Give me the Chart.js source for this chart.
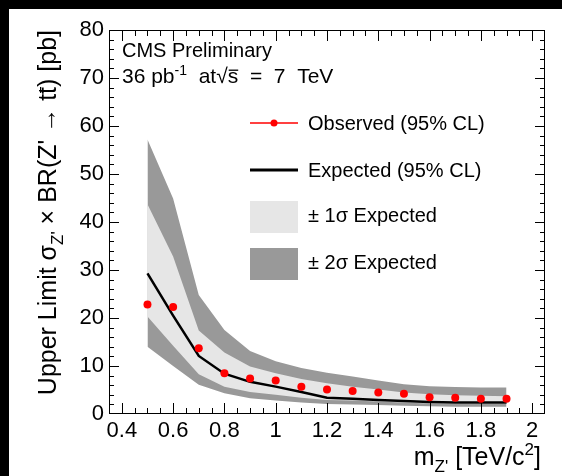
<!DOCTYPE html>
<html>
<head>
<meta charset="utf-8">
<script src="https://cdn.jsdelivr.net/npm/chart.js@4.4.1/dist/chart.umd.min.js"></script>
<style>
  html, body { margin: 0; padding: 0; background: #fff; }
  #wrap { width: 562px; height: 476px; }
</style>
</head>
<body>
<div id="wrap"><canvas id="limitChart" width="562" height="476"></canvas></div>
<script>
// Z' masses [TeV/c^2]
const masses = [0.5, 0.6, 0.7, 0.8, 0.9, 1.0, 1.1, 1.2, 1.3, 1.4, 1.5, 1.6, 1.7, 1.8, 1.9];
// upper limits [pb]
const observed = [22.8, 22.3, 13.7, 8.5, 7.4, 7.0, 5.7, 5.1, 4.8, 4.5, 4.2, 3.5, 3.4, 3.2, 3.2];
const expected = [29.3, 20.5, 12.1, 8.4, 6.7, 5.7, 4.6, 3.4, 3.2, 2.9, 2.7, 2.5, 2.4, 2.4, 2.4];
const plus1 = [43.7, 32.8, 17.4, 12.8, 9.9, 8.5, 7.3, 6.4, 5.7, 5.1, 4.5, 4.1, 3.9, 3.8, 3.7];
const minus1 = [20.3, 14.2, 8.3, 5.7, 4.6, 4.0, 3.4, 2.9, 2.8, 2.6, 2.4, 2.2, 2.1, 2.1, 2.1];
const plus2 = [57.2, 44.9, 24.8, 17.5, 13.1, 11.0, 9.6, 8.6, 7.8, 7.0, 6.2, 5.8, 5.6, 5.5, 5.5];
const minus2 = [14.0, 10.0, 6.1, 4.3, 3.3, 2.8, 2.4, 2.1, 2.0, 1.9, 1.7, 1.6, 1.5, 1.5, 1.5];

const xTicks = [0.4, 0.6, 0.8, 1, 1.2, 1.4, 1.6, 1.8, 2];
const yTicks = [0, 10, 20, 30, 40, 50, 60, 70, 80];

const FONT = '"Liberation Sans", Arial, Helvetica, sans-serif';
const LIGHT = '#e6e6e6';
const DARK = '#999999';

const pts = arr => masses.map((m, i) => ({ x: m, y: arr[i] }));

// draw a run of text pieces (sub/superscripts, overlines)
function drawRich(ctx, parts, x, y, align) {
    let total = 0;
    parts.forEach(p => {
        ctx.font = p.size + 'px ' + FONT;
        p.w = ctx.measureText(p.t).width;
        total += p.w;
    });
    let cx = align === 'right' ? x - total : x;
    parts.forEach(p => {
        ctx.font = p.size + 'px ' + FONT;
        ctx.fillText(p.t, cx, y + (p.dy || 0));
        if (p.over) {
            ctx.fillRect(cx + 1, y - p.size * 0.64, p.w - 1, 1.3);
        }
        cx += p.w;
    });
}

const decorations = {
    id: 'decorations',
    beforeDraw(chart) {
        const ctx = chart.ctx;
        ctx.save();
        ctx.fillStyle = '#fff';
        ctx.fillRect(0, 0, chart.width, chart.height);
        ctx.fillStyle = '#000';
        ctx.fillRect(0, 0, chart.width, 9);
        ctx.fillRect(0, 0, 9, chart.height);
        ctx.restore();
    },
    afterDatasetsDraw(chart) {
        const ctx = chart.ctx;
        const a = chart.chartArea;
        const xs = chart.scales.x;
        const ys = chart.scales.y;
        ctx.save();
        ctx.strokeStyle = '#000';
        ctx.lineWidth = 1;

        // frame
        ctx.strokeRect(a.left + 0.5, a.top + 0.5, a.right - a.left - 1, a.bottom - a.top - 1);

        // ticks pointing inward, mirrored on the opposite sides
        ctx.beginPath();
        for (let i = 8; i <= 40; i++) {
            const px = Math.round(xs.getPixelForValue(i * 0.05)) + 0.5;
            const len = i % 4 === 0 ? 11 : 6;
            ctx.moveTo(px, a.bottom);
            ctx.lineTo(px, a.bottom - len);
            ctx.moveTo(px, a.top);
            ctx.lineTo(px, a.top + len);
        }
        for (let v = 2; v < 80; v += 2) {
            const py = Math.round(ys.getPixelForValue(v)) + 0.5;
            const len = v % 10 === 0 ? 10 : 5;
            ctx.moveTo(a.left, py);
            ctx.lineTo(a.left + len, py);
            ctx.moveTo(a.right, py);
            ctx.lineTo(a.right - len, py);
        }
        ctx.stroke();

        ctx.fillStyle = '#000';
        ctx.textBaseline = 'alphabetic';

        // header
        ctx.font = '20px ' + FONT;
        ctx.fillText('CMS Preliminary', 122, 57);
        drawRich(ctx, [
            { t: '36 pb', size: 21 },
            { t: '-1', size: 14, dy: -8 },
            { t: '  at', size: 21 },
            { t: '\u221A', size: 21 },
            { t: 's', size: 21, over: true },
            { t: '  =  7  TeV', size: 21 }
        ], 122, 83, 'left');

        // legend
        const lx = 250, lw = 48, tx = 308;
        ctx.strokeStyle = '#ff0000';
        ctx.lineWidth = 1.5;
        ctx.beginPath();
        ctx.moveTo(lx, 123);
        ctx.lineTo(lx + lw, 123);
        ctx.stroke();
        ctx.fillStyle = '#ff0000';
        ctx.beginPath();
        ctx.arc(lx + lw / 2, 123, 3.5, 0, Math.PI * 2);
        ctx.fill();

        ctx.strokeStyle = '#000';
        ctx.lineWidth = 3;
        ctx.beginPath();
        ctx.moveTo(lx, 170);
        ctx.lineTo(lx + lw, 170);
        ctx.stroke();

        ctx.fillStyle = LIGHT;
        ctx.fillRect(lx, 201, lw, 32);
        ctx.fillStyle = DARK;
        ctx.fillRect(lx, 248, lw, 32);

        ctx.fillStyle = '#000';
        ctx.font = '20px ' + FONT;
        ctx.fillText('Observed (95% CL)', tx, 130);
        ctx.fillText('Expected (95% CL)', tx, 177);
        ctx.fillText('\u00B1 1\u03C3 Expected', tx, 222);
        ctx.fillText('\u00B1 2\u03C3 Expected', tx, 269);

        // x title
        drawRich(ctx, [
            { t: 'm', size: 25 },
            { t: "Z'", size: 17, dy: 7 },
            { t: ' [TeV/c', size: 25 },
            { t: '2', size: 17, dy: -10 },
            { t: ']', size: 25 }
        ], a.right - 4, 465, 'right');

        // y title (rotated)
        ctx.translate(56, a.top);
        ctx.rotate(-Math.PI / 2);
        drawRich(ctx, [
            { t: 'Upper Limit \u03C3', size: 25 },
            { t: "Z'", size: 17, dy: 7 },
            { t: ' \u00D7 BR(Z\' \u2192 t', size: 25 },
            { t: 't', size: 25, over: true },
            { t: ') [pb]', size: 25 }
        ], 0, 0, 'right');
        ctx.restore();
    }
};

new Chart(document.getElementById('limitChart'), {
    type: 'line',
    data: {
        datasets: [
            {
                label: 'Observed (95% CL)',
                data: pts(observed),
                showLine: false,
                pointRadius: 4,
                pointBackgroundColor: '#ff0000',
                pointBorderWidth: 0,
                borderColor: '#ff0000',
                order: 0
            },
            {
                label: 'Expected (95% CL)',
                data: pts(expected),
                borderColor: '#000',
                borderWidth: 2.5,
                pointRadius: 0,
                fill: false,
                order: 1
            },
            {
                label: '\u00B1 1\u03C3 Expected',
                data: pts(plus1),
                borderColor: 'rgba(0,0,0,0)',
                borderWidth: 0,
                backgroundColor: LIGHT,
                pointRadius: 0,
                fill: '+1',
                order: 2
            },
            {
                label: '-1 sigma',
                data: pts(minus1),
                borderColor: 'rgba(0,0,0,0)',
                borderWidth: 0,
                pointRadius: 0,
                fill: false,
                order: 3
            },
            {
                label: '\u00B1 2\u03C3 Expected',
                data: pts(plus2),
                borderColor: 'rgba(0,0,0,0)',
                borderWidth: 0,
                backgroundColor: DARK,
                pointRadius: 0,
                fill: '+1',
                order: 4
            },
            {
                label: '-2 sigma',
                data: pts(minus2),
                borderColor: 'rgba(0,0,0,0)',
                borderWidth: 0,
                pointRadius: 0,
                fill: false,
                order: 5
            }
        ]
    },
    options: {
        responsive: false,
        animation: false,
        devicePixelRatio: 1,
        layout: { padding: { left: 0, right: 17, top: 30, bottom: 0 } },
        plugins: {
            legend: { display: false },
            tooltip: { enabled: false }
        },
        scales: {
            x: {
                type: 'linear',
                min: 0.35,
                max: 2.05,
                afterBuildTicks: s => { s.ticks = xTicks.map(v => ({ value: v })); },
                afterFit: s => { s.height = 62; },
                grid: { display: false, drawTicks: false },
                border: { display: false },
                ticks: {
                    padding: 4,
                    color: '#000',
                    font: { family: FONT, size: 22 },
                    maxRotation: 0,
                    callback: v => String(+Number(v).toFixed(1))
                }
            },
            y: {
                type: 'linear',
                min: 0,
                max: 80,
                afterBuildTicks: s => { s.ticks = yTicks.map(v => ({ value: v })); },
                afterFit: s => { s.width = 109; },
                grid: { display: false, drawTicks: false },
                border: { display: false },
                ticks: {
                    padding: 5,
                    color: '#000',
                    font: { family: FONT, size: 22 }
                }
            }
        }
    },
    plugins: [decorations]
});
</script>
</body>
</html>
